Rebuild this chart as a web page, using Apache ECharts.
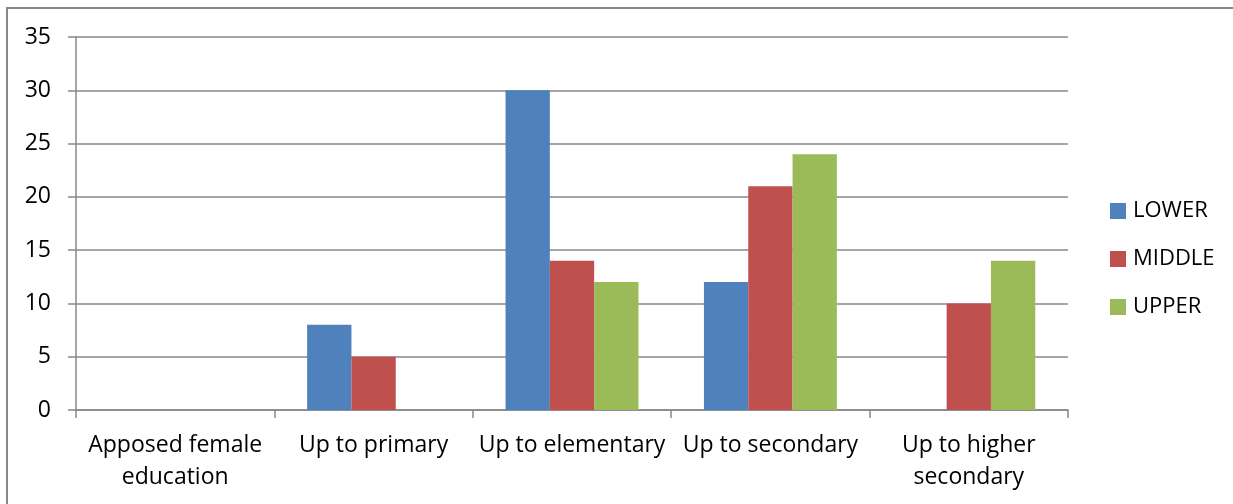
<!DOCTYPE html>
<html>
<head>
<meta charset="utf-8">
<script src="https://cdn.jsdelivr.net/npm/echarts@6/dist/echarts.min.js"></script>
<style>
  html, body { margin: 0; padding: 0; background: #fff; }
  #chart { width: 1233px; height: 504px; }
</style>
</head>
<body>
<div id="chart"></div>
<script>
// Education level categories (x axis)
const categories = [
  'Apposed female\neducation',
  'Up to primary',
  'Up to elementary',
  'Up to secondary',
  'Up to higher\nsecondary'
];

// Counts per socio-economic group
const lowerValues  = [0, 8, 30, 12, 0];
const middleValues = [0, 5, 14, 21, 10];
const upperValues  = [0, 0, 12, 24, 14];

const seriesNames = ['LOWER', 'MIDDLE', 'UPPER'];

// Value axis range
const yMin = 0;
const yMax = 35;
const yStep = 5;

const FONT = 'Open Sans';
const FONT_SIZE = 23;
const AXIS_GRAY = '#888888';

const chart = echarts.init(document.getElementById('chart'), null, { renderer: 'canvas' });

chart.setOption({
  animation: false,
  textStyle: { fontFamily: FONT, color: '#000' },
  color: ['#4F81BD', '#C0504D', '#9BBB59'],
  graphic: [{
    type: 'rect',
    shape: { x: 7, y: 8, width: 1400, height: 700 },
    style: { fill: 'none', stroke: AXIS_GRAY, lineWidth: 2 },
    silent: true
  }],
  grid: { left: 76, right: 165, top: 37, bottom: 94, containLabel: false },
  legend: {
    orient: 'vertical',
    left: 1105,
    top: 195,
    itemWidth: 16,
    itemHeight: 16,
    itemGap: 26,
    icon: 'rect',
    data: seriesNames,
    textStyle: { fontFamily: FONT, fontSize: 22, color: '#000', padding: [0, 0, 0, 2] }
  },
  xAxis: {
    type: 'category',
    data: categories,
    axisLine: { lineStyle: { color: AXIS_GRAY, width: 1.5 } },
    axisTick: { show: true, length: 8, lineStyle: { color: AXIS_GRAY, width: 1.5 } },
    axisLabel: {
      interval: 0,
      margin: 19,
      fontFamily: FONT,
      fontSize: FONT_SIZE,
      lineHeight: 32,
      color: '#000'
    }
  },
  yAxis: {
    type: 'value',
    min: yMin,
    max: yMax,
    interval: yStep,
    axisLine: { show: true, lineStyle: { color: AXIS_GRAY, width: 1.5 } },
    axisTick: { show: true, length: 8, lineStyle: { color: AXIS_GRAY, width: 1.5 } },
    splitLine: { lineStyle: { color: AXIS_GRAY, width: 1.5 } },
    axisLabel: { margin: 25, fontFamily: FONT, fontSize: FONT_SIZE, color: '#000' }
  },
  series: [
    { name: seriesNames[0], type: 'bar', data: lowerValues,  barGap: '0%', barCategoryGap: '33%' },
    { name: seriesNames[1], type: 'bar', data: middleValues, barGap: '0%', barCategoryGap: '33%' },
    { name: seriesNames[2], type: 'bar', data: upperValues,  barGap: '0%', barCategoryGap: '33%' }
  ]
});
</script>
</body>
</html>
